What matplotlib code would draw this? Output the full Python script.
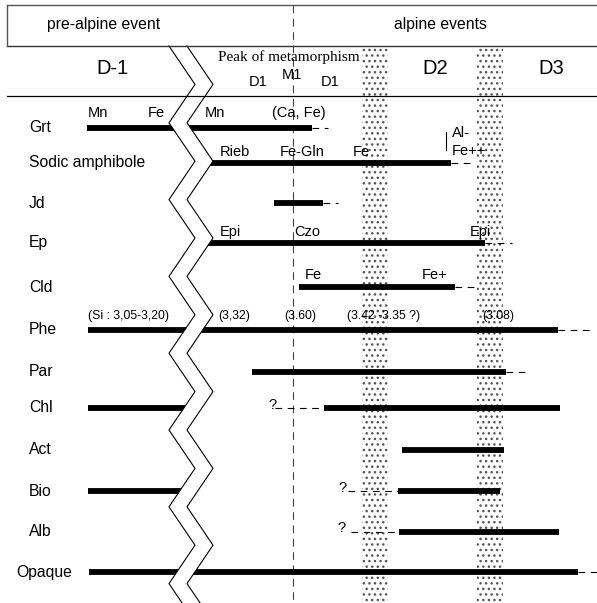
import numpy as np
import matplotlib
matplotlib.use("Agg")
import matplotlib.pyplot as plt

plt.rcParams["font.family"] = ["Liberation Sans", "DejaVu Sans"]
plt.rcParams["hatch.linewidth"] = 1.0

# minerals, top to bottom, and the row centre of each one on the diagram
minerals = ["Grt", "Sodic amphibole", "Jd", "Ep", "Cld", "Phe", "Par",
            "Chl", "Act", "Bio", "Alb", "Opaque"]
row_y = [128, 163, 203, 243, 287, 330, 372, 408, 450, 491, 532, 572]

# stability ranges (relative time axis, left = old), solid part
solid_mineral = ["Grt", "Sodic amphibole", "Jd", "Ep", "Cld", "Phe", "Par",
                 "Chl", "Chl", "Act", "Bio", "Bio", "Alb", "Opaque"]
solid_start = [87, 205, 274, 205, 299, 88, 252, 88, 324, 402, 88, 398, 399, 89]
solid_end = [312, 451, 323, 485, 455, 558, 506, 188, 560, 504, 186, 500, 559, 578]

# uncertain ranges (dashed)
dash_mineral = ["Grt", "Sodic amphibole", "Jd", "Ep", "Cld", "Phe", "Par",
                "Chl", "Bio", "Alb", "Opaque"]
dash_start = [312, 451, 323, 485, 455, 558, 506, 275, 348, 351, 578]
dash_end = [328, 475, 338, 512, 474, 594, 529, 323, 398, 399, 597]

# compositional notes written above the bars
note_mineral = ["Grt", "Grt", "Grt", "Grt",
                "Sodic amphibole", "Sodic amphibole", "Sodic amphibole",
                "Sodic amphibole", "Sodic amphibole",
                "Ep", "Ep", "Ep", "Cld", "Cld",
                "Chl", "Bio", "Alb"]
note_x = [88, 148, 205, 272, 220, 280, 353, 452, 452, 220, 294, 470, 305, 422,
          268, 338, 337]
note_text = ["Mn", "Fe", "Mn", "(Ca, Fe)", "Rieb", "Fe-Gln", "Fe", "Al-", "Fe++",
             "Epi", "Czo", "Epi", "Fe", "Fe+", "?", "?", "?"]
note_dy = [-15, -15, -15, -15, -11, -11, -11, -30, -12, -11, -11, -11, -12, -12,
           -3, -3, -4]

# phengite Si contents
si_x = [88, 218, 284, 347, 482]
si_text = ["(Si : 3,05-3,20)", "(3,32)", "(3.60)", "(3.42 -3.35 ?)", "(3.08)"]

# deformation phases in the header
phase_text = ["D-1", "D2", "D3"]
phase_x = [112, 435, 551]
stipple_bands = [(362, 388), (477, 503)]
peak_x = 293

W, H = 597, 603
fig = plt.figure(figsize=(W / 100, H / 100), dpi=100)
ax = fig.add_axes([0, 0, 1, 1])
ax.set_xlim(0, W)
ax.set_ylim(H, 0)
ax.axis("off")

# header frame
ax.plot([7, W + 5], [5, 5], color="#555555", lw=1.0, zorder=6)
ax.plot([7, W + 5], [46, 46], color="#333333", lw=1.0, zorder=6)
ax.plot([7, 7], [5, 46], color="#555555", lw=1.0, zorder=6)
ax.plot([7, W + 5], [96, 96], color="black", lw=0.9, zorder=6)
ax.text(47, 25, "pre-alpine event", fontsize=11.3, va="center", ha="left", zorder=7)
ax.text(440, 25, "alpine events", fontsize=11.3, va="center", ha="center", zorder=7)
for t, x in zip(phase_text, phase_x):
    ax.text(x, 68, t, fontsize=14.5, va="center", ha="center", zorder=7)
ax.text(289, 57, "Peak of metamorphism", fontsize=11, family="Liberation Serif",
        va="center", ha="center", zorder=7)
ax.text(258, 82, "D1", fontsize=10.5, va="center", ha="center", zorder=7)
ax.text(292, 75, "M1", fontsize=10.5, va="center", ha="center", zorder=7)
ax.text(330, 82, "D1", fontsize=10.5, va="center", ha="center", zorder=7)

# stippled transition bands between D1/D2 and D2/D3
for x0, x1 in stipple_bands:
    ax.fill_betweenx([46.5, H], x0, x1, facecolor="white", edgecolor="#555555",
                     hatch="...", linewidth=0, zorder=1)

# peak of metamorphism
ax.plot([peak_x, peak_x], [5, H], color="#444444", lw=0.8,
        linestyle=(0, (7, 5)), zorder=2)

ypos = dict(zip(minerals, row_y))
for m, y in zip(minerals, row_y):
    ax.text(16 if m == "Opaque" else 29, y, m, fontsize=11.3, va="center",
            ha="left", zorder=7)

for m, a, b in zip(solid_mineral, solid_start, solid_end):
    ax.plot([a, b], [ypos[m], ypos[m]], color="black", lw=4.2,
            solid_capstyle="butt", zorder=3)
for m, a, b in zip(dash_mineral, dash_start, dash_end):
    ax.plot([a, b], [ypos[m], ypos[m]], color="black", lw=0.8,
            linestyle=(0, (6, 5)), zorder=3)

for m, x, t, dy in zip(note_mineral, note_x, note_text, note_dy):
    ax.text(x, ypos[m] + dy, t, fontsize=10.5, va="center", ha="left", zorder=7)
# Al / Fe++ separator tick
ax.plot([446, 446], [132, 150], color="black", lw=0.8, zorder=3)

for x, t in zip(si_x, si_text):
    ax.text(x, ypos["Phe"] - 14, t, fontsize=8.8, va="center", ha="left", zorder=7)

# zigzag break between pre-alpine and alpine history
zy = [46]
k = 1
while zy[-1] < H + 40:
    zy.append(46 + 38.4 * k)
    k += 1
zy = np.array(zy)
zx = np.where(np.arange(len(zy)) % 2 == 0, 169.0, 195.0)
ax.fill_betweenx(zy, zx, zx + 18, facecolor="white", edgecolor="none", zorder=4)
ax.plot(zx, zy, color="black", lw=0.8, zorder=5)
ax.plot(zx + 18, zy, color="black", lw=0.8, zorder=5)
ax.set_ylim(H, 0)

fig.savefig("out.png", dpi=100)
